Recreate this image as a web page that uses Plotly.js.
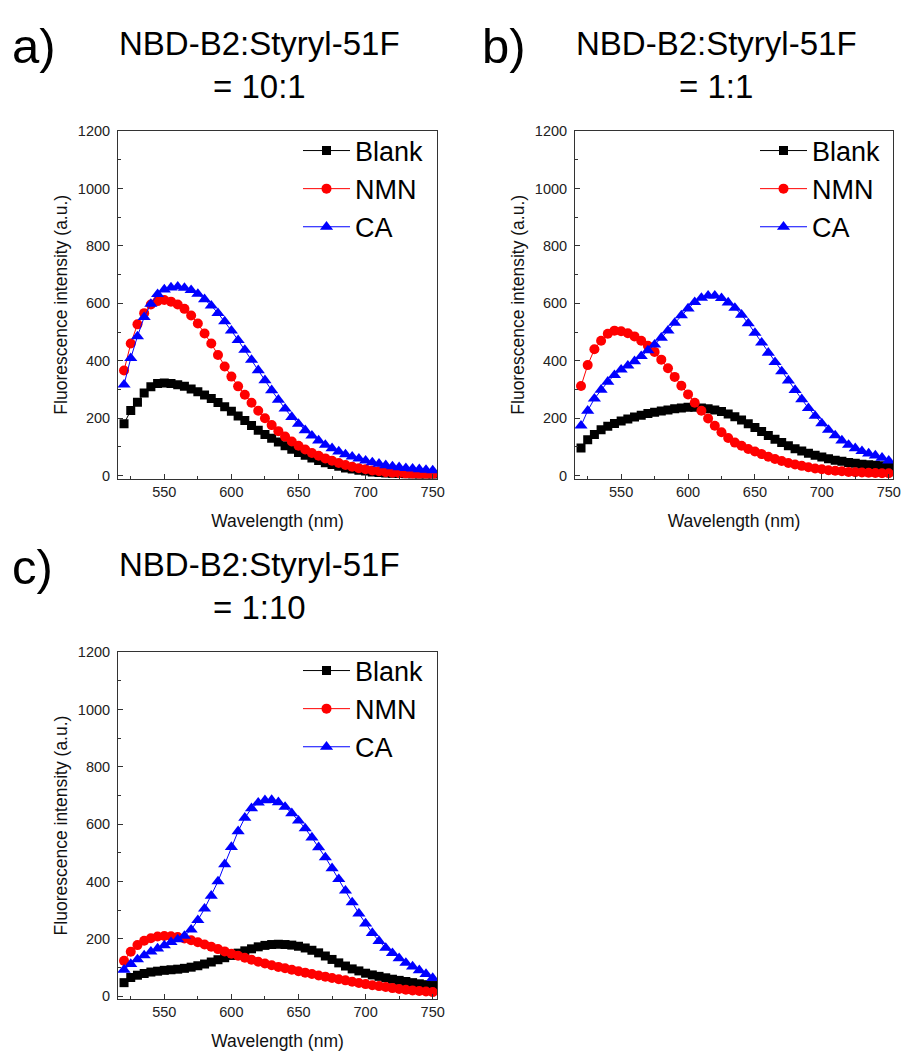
<!DOCTYPE html>
<html>
<head>
<meta charset="utf-8">
<script src="https://cdn.plot.ly/plotly-3.0.1.min.js"></script>
<style>
html,body{margin:0;padding:0;background:#fff;}
#chart{width:901px;height:1051px;}
</style>
</head>
<body>
<div id="chart"></div>
<script>
// ---------- DATA ----------
const wavelength = [520,525,530,535,540,545,550,555,560,565,570,575,580,585,590,595,600,605,610,615,620,625,630,635,640,645,650,655,660,665,670,675,680,685,690,695,700,705,710,715,720,725,730,735,740,745,750];

const seriesNames = ['Blank','NMN','CA'];
const panelLabels = ['a)','b)','c)'];
const panelTitleLine1 = ['NBD-B2:Styryl-51F','NBD-B2:Styryl-51F','NBD-B2:Styryl-51F'];
const panelTitleLine2 = ['= 10:1','= 1:1','= 1:10'];

// Panel a) 10:1
const blankA = [181,227,256,288,310,321,323,321,317,311,302,292,281,269,255,240,224,208,192,175,158,143,130,117,104,92,81,71,61,53,45,39,33,27,23,19,16,13,11,9,8,7,6,5,4,4,3];
const nmnA   = [366,460,527,566,596,608,612,606,596,581,558,530,495,460,420,380,345,311,282,254,226,200,176,155,136,119,104,91,79,69,60,52,44,37,31,26,22,18,15,12,10,8,7,6,5,4,4];
const caA    = [317,409,485,552,598,632,648,655,658,654,646,633,614,592,566,537,505,472,438,403,367,332,297,264,233,204,180,158,139,122,107,95,84,74,66,59,52,46,41,36,32,29,26,24,22,20,18];

// Panel b) 1:1
const blankB = [96,125,143,160,172,182,190,197,204,210,216,221,225,229,233,236,238,238,236,233,229,223,215,205,194,181,168,154,140,127,115,104,94,86,78,71,65,59,54,50,46,43,40,38,36,34,32];
const nmnB   = [312,385,440,470,494,505,503,496,485,470,452,431,404,374,344,313,283,254,226,199,174,151,131,115,104,93,84,75,66,58,51,44,39,34,29,25,22,19,17,15,13,12,11,10,9,8,8];
const caB    = [174,226,268,299,327,350,369,383,398,416,436,456,480,505,532,558,582,604,619,627,627,618,603,584,560,530,497,463,428,395,363,331,298,266,235,208,182,159,140,122,107,95,85,77,70,62,52];

// Panel c) 1:10
const blankC = [47,65,73,79,84,87,90,92,94,97,101,106,112,119,127,134,142,150,158,165,172,177,180,181,180,178,174,168,160,151,140,128,116,105,95,88,80,74,69,64,59,55,51,47,43,40,37];
const nmnC   = [123,155,178,193,202,208,210,209,206,201,195,188,180,172,164,156,148,141,134,127,120,114,108,102,97,92,87,82,77,72,68,63,59,55,50,46,42,38,35,32,28,25,22,20,18,16,14];
const caC    = [92,112,128,142,155,166,177,188,198,210,232,265,305,350,400,460,520,575,622,655,675,683,684,676,660,638,612,585,553,519,484,446,408,368,327,288,253,220,192,168,150,132,116,103,90,77,63];

const xTitle = 'Wavelength (nm)';
const yTitle = 'Fluorescence intensity (a.u.)';

// ---------- STYLE ----------
const FONT = 'Liberation Sans, Arial, Helvetica, sans-serif';
const W = 901, H = 1051;
const colors = ['#000000','#ff0000','#0000ff'];
const symbols = ['square','circle','triangle-up'];
const msizes = [9,10,11.5];

const panels = [
  {data:[blankA,nmnA,caA], xa:'x',  ya:'y',  leg:'legend'},
  {data:[blankB,nmnB,caB], xa:'x2', ya:'y2', leg:'legend2'},
  {data:[blankC,nmnC,caC], xa:'x3', ya:'y3', leg:'legend3'}
];

const traces = [];
panels.forEach(p => {
  p.data.forEach((vals, i) => {
    traces.push({
      type:'scatter', mode:'lines+markers',
      x: wavelength, y: vals, name: seriesNames[i],
      xaxis: p.xa, yaxis: p.ya, legend: p.leg,
      line:{color:colors[i], width:1},
      marker:{symbol:symbols[i], size:msizes[i], color:colors[i]}
    });
  });
});

function px2x(px){ return px / W; }
function px2y(py){ return 1 - py / H; }

function xaxis(l, r, anchor){
  return {
    domain:[px2x(l), px2x(r)], anchor:anchor,
    range:[515.5, 753.2], showline:true, mirror:true, linecolor:'#333', linewidth:1,
    ticks:'inside', ticklen:5, tickwidth:1, tickcolor:'#333',
    tick0:550, dtick:50,
    minor:{ticks:'inside', ticklen:3, tickwidth:1, tickcolor:'#333', dtick:25, showgrid:false},
    showgrid:false, zeroline:false,
    tickfont:{family:FONT, size:14.5, color:'#222'},
    title:{text:xTitle, font:{family:FONT, size:17.5, color:'#111'}, standoff:15}
  };
}
function yaxis(t, b, anchor){
  return {
    domain:[px2y(b), px2y(t)], anchor:anchor,
    range:[-10, 1200.5], showline:true, mirror:true, linecolor:'#333', linewidth:1,
    ticks:'inside', ticklen:5, tickwidth:1, tickcolor:'#333',
    tick0:0, dtick:200,
    minor:{ticks:'inside', ticklen:3, tickwidth:1, tickcolor:'#333', dtick:100, showgrid:false},
    showgrid:false, zeroline:false,
    ticklabelstandoff:4,
    tickfont:{family:FONT, size:14.5, color:'#222'},
    title:{text:yTitle, font:{family:FONT, size:17.5, color:'#111'}, standoff:5}
  };
}
function legend(left, top){
  return {
    x:px2x(left), xanchor:'left', y:px2y(top), yanchor:'top',
    bgcolor:'rgba(0,0,0,0)', borderwidth:0,
    font:{family:FONT, size:27, color:'#000'},
    itemwidth:47, tracegroupgap:0
  };
}

const annPos = [
  {lx:10,  ly:46,  cx:259, y1:43.5,  y2:86.5},
  {lx:480, ly:46,  cx:716, y1:43.5,  y2:86.5},
  {lx:10,  ly:567, cx:259, y1:564.5, y2:607.5}
];
const annotations = [];
annPos.forEach((a, i) => {
  annotations.push({xref:'paper', yref:'paper', x:px2x(a.lx), y:px2y(a.ly), xanchor:'left', yanchor:'middle',
    text:panelLabels[i], showarrow:false, font:{family:FONT, size:49, color:'#000'}});
  annotations.push({xref:'paper', yref:'paper', x:px2x(a.cx), y:px2y(a.y1), xanchor:'center', yanchor:'middle',
    text:panelTitleLine1[i], showarrow:false, font:{family:FONT, size:33, color:'#000'}});
  annotations.push({xref:'paper', yref:'paper', x:px2x(a.cx), y:px2y(a.y2), xanchor:'center', yanchor:'middle',
    text:panelTitleLine2[i], showarrow:false, font:{family:FONT, size:33, color:'#000'}});
});

const layout = {
  width:W, height:H, margin:{l:0, r:0, t:0, b:0},
  paper_bgcolor:'#fff', plot_bgcolor:'#fff',
  showlegend:true,
  xaxis:  xaxis(118, 437, 'y'),
  yaxis:  yaxis(131, 478.5, 'x'),
  xaxis2: xaxis(575, 893, 'y2'),
  yaxis2: yaxis(131, 478.5, 'x2'),
  xaxis3: xaxis(118, 437, 'y3'),
  yaxis3: yaxis(652, 999, 'x3'),
  legend:  legend(298, 126.5),
  legend2: legend(755, 126.5),
  legend3: legend(298, 646.5),
  annotations: annotations
};

Plotly.newPlot('chart', traces, layout, {staticPlot:true, displayModeBar:false});
</script>
</body>
</html>
